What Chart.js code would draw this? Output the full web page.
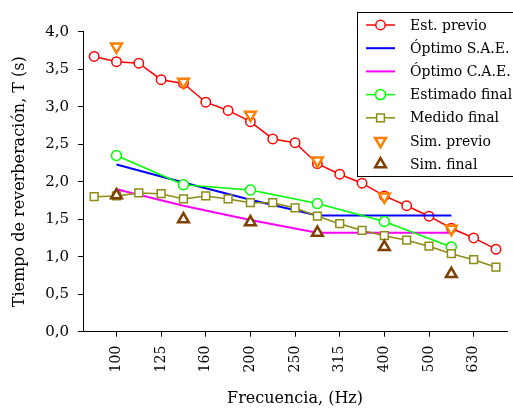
<!DOCTYPE html>
<html>
<head>
<meta charset="utf-8">
<script src="https://cdn.jsdelivr.net/npm/chart.js@4/dist/chart.umd.min.js"></script>
<style>
  html, body { margin: 0; padding: 0; background: #fff; overflow: hidden; }
  #wrap { width: 513px; height: 410px; overflow: hidden; }
</style>
</head>
<body>
<div id="wrap"><canvas id="chart" width="522" height="410"></canvas></div>
<script>
// 1/6-octave positions, only the nominal third-octave bands get a label
const categories = ['90', '100', '112', '125', '140', '160', '180', '200', '224', '250', '280', '315', '355', '400', '450', '500', '560', '630', '710'];
const tickLabels = ['100', '125', '160', '200', '250', '315', '400', '500', '630'];
const yTicks = [0, 0.5, 1, 1.5, 2, 2.5, 3, 3.5, 4];

const estPrevio     = [3.67, 3.60, 3.58, 3.36, 3.31, 3.06, 2.95, 2.80, 2.57, 2.52, 2.24, 2.10, 1.98, 1.81, 1.68, 1.54, 1.38, 1.25, 1.10];
const optimoSAE     = [null, 2.23, null, null, 1.99, null, null, 1.76, null, null, 1.55, null, null, 1.55, null, null, 1.55, null, null];
const optimoCAE     = [null, 1.90, null, null, 1.68, null, null, 1.49, null, null, 1.32, null, null, 1.32, null, null, 1.32, null, null];
const estimadoFinal = [null, 2.35, null, null, 1.96, null, null, 1.89, null, null, 1.71, null, null, 1.47, null, null, 1.13, null, null];
const medidoFinal   = [1.80, 1.81, 1.85, 1.84, 1.77, 1.81, 1.77, 1.72, 1.72, 1.65, 1.54, 1.44, 1.35, 1.28, 1.22, 1.14, 1.04, 0.96, 0.86];
const simPrevio     = [null, 3.80, null, null, 3.33, null, null, 2.89, null, null, 2.28, null, null, 1.80, null, null, 1.37, null, null];
const simFinal      = [null, 1.82, null, null, 1.50, null, null, 1.46, null, null, 1.32, null, null, 1.13, null, null, 0.77, null, null];

Chart.defaults.font.family = 'DejaVu Serif';
Chart.defaults.color = '#000';

function drawMarker(ctx, style, x, y, r, rot, fill, stroke, lw) {
    ctx.save();
    ctx.fillStyle = fill;
    ctx.strokeStyle = stroke;
    ctx.lineWidth = lw;
    ctx.beginPath();
    if (style === 'circle') {
        ctx.arc(x, y, r, 0, Math.PI * 2);
    } else if (style === 'rect') {
        const s = r * Math.SQRT1_2;
        ctx.rect(x - s, y - s, 2 * s, 2 * s);
    } else if (style === 'triangle') {
        let a = (rot || 0) * Math.PI / 180;
        ctx.moveTo(x + Math.sin(a) * r, y - Math.cos(a) * r);
        a += 2 * Math.PI / 3;
        ctx.lineTo(x + Math.sin(a) * r, y - Math.cos(a) * r);
        a += 2 * Math.PI / 3;
        ctx.lineTo(x + Math.sin(a) * r, y - Math.cos(a) * r);
        ctx.closePath();
    }
    ctx.fill();
    ctx.stroke();
    ctx.restore();
}

// legend in a framed box inside the plot, top right
const boxLegend = {
    id: 'boxLegend',
    afterDraw(chart) {
        const ctx = chart.ctx;
        ctx.save();
        ctx.fillStyle = '#fff';
        ctx.fillRect(357, 12, 200, 164);
        ctx.strokeStyle = '#000';
        ctx.lineWidth = 1;
        ctx.strokeRect(357.5, 12.5, 200, 164);
        chart.data.datasets.forEach((ds, i) => {
            const y = 25 + i * 23.2;
            if (ds.showLine !== false) {
                ctx.strokeStyle = ds.borderColor;
                ctx.lineWidth = ds.borderWidth;
                ctx.beginPath();
                ctx.moveTo(366, y);
                ctx.lineTo(395, y);
                ctx.stroke();
            }
            if (ds.pointRadius > 0) {
                drawMarker(ctx, ds.pointStyle, 380.5, y, ds.pointRadius, ds.pointRotation,
                    ds.pointBackgroundColor, ds.pointBorderColor, ds.pointBorderWidth);
            }
            ctx.fillStyle = '#000';
            ctx.font = '14px "DejaVu Serif"';
            ctx.textBaseline = 'middle';
            ctx.textAlign = 'left';
            ctx.fillText(ds.label, 410, y + 1);
        });
        ctx.restore();
    }
};

function series(label, data, color, opts) {
    return Object.assign({
        label: label,
        data: data,
        borderColor: color,
        backgroundColor: color,
        borderWidth: 1.5,
        pointStyle: 'circle',
        pointRadius: 0,
        pointRotation: 0,
        pointBackgroundColor: '#fff',
        pointBorderColor: color,
        pointBorderWidth: 1.5,
        spanGaps: true,
        tension: 0,
        fill: false
    }, opts);
}

const datasets = [
    series('Est. previo', estPrevio, '#ff0000', { pointRadius: 4.7 }),
    series('Óptimo S.A.E.', optimoSAE, '#0000ff', { borderWidth: 2 }),
    series('Óptimo C.A.E.', optimoCAE, '#ff00ff', { borderWidth: 2 }),
    series('Estimado final', estimadoFinal, '#00ff00', { pointRadius: 5 }),
    series('Medido final', medidoFinal, '#8c8c14', { pointStyle: 'rect', pointRadius: 5.5 }),
    series('Sim. previo', simPrevio, '#ff7f00', { showLine: false, pointStyle: 'triangle', pointRotation: 180, pointRadius: 6.2, pointBorderWidth: 2.5 }),
    series('Sim. final', simFinal, '#7f3f00', { showLine: false, pointStyle: 'triangle', pointRadius: 6.2, pointBorderWidth: 2.5 })
];
// later series on top, as in the original
datasets.forEach((ds, i) => { ds.order = datasets.length - i; });

new Chart(document.getElementById('chart').getContext('2d'), {
    type: 'line',
    data: { labels: categories, datasets: datasets },
    options: {
        responsive: false,
        animation: false,
        devicePixelRatio: 1,
        layout: { padding: { top: 31.7, right: 0, bottom: 0, left: 0 } },
        plugins: {
            legend: { display: false },
            tooltip: { enabled: false }
        },
        scales: {
            x: {
                type: 'category',
                offset: true,
                afterFit: s => { s.height = 78.3; },
                grid: {
                    offset: false,
                    drawOnChartArea: false,
                    tickLength: 5,
                    tickColor: c => tickLabels.includes(categories[c.index]) ? '#000' : 'rgba(0,0,0,0)'
                },
                border: { color: '#000', width: 1 },
                ticks: {
                    autoSkip: false,
                    minRotation: 90,
                    maxRotation: 90,
                    padding: 9,
                    font: { size: 14 },
                    callback: (v, i) => tickLabels.includes(categories[i]) ? categories[i] : ''
                },
                title: {
                    display: true,
                    text: 'Frecuencia, (Hz)',
                    font: { size: 16 },
                    padding: { top: 0, bottom: 2 }
                }
            },
            y: {
                min: 0,
                max: 4,
                afterFit: s => { s.width = 83; },
                afterBuildTicks: s => { s.ticks = yTicks.map(v => ({ value: v })); },
                grid: { drawOnChartArea: false, tickLength: 5, tickColor: '#000' },
                border: { color: '#000', width: 1 },
                ticks: {
                    padding: 9,
                    font: { size: 15 },
                    callback: v => v.toFixed(1).replace('.', ',')
                },
                title: {
                    display: true,
                    text: 'Tiempo de reverberación, T (s)',
                    font: { size: 16 },
                    padding: { top: 10, bottom: 0 }
                }
            }
        }
    },
    plugins: [boxLegend]
});
</script>
</body>
</html>
